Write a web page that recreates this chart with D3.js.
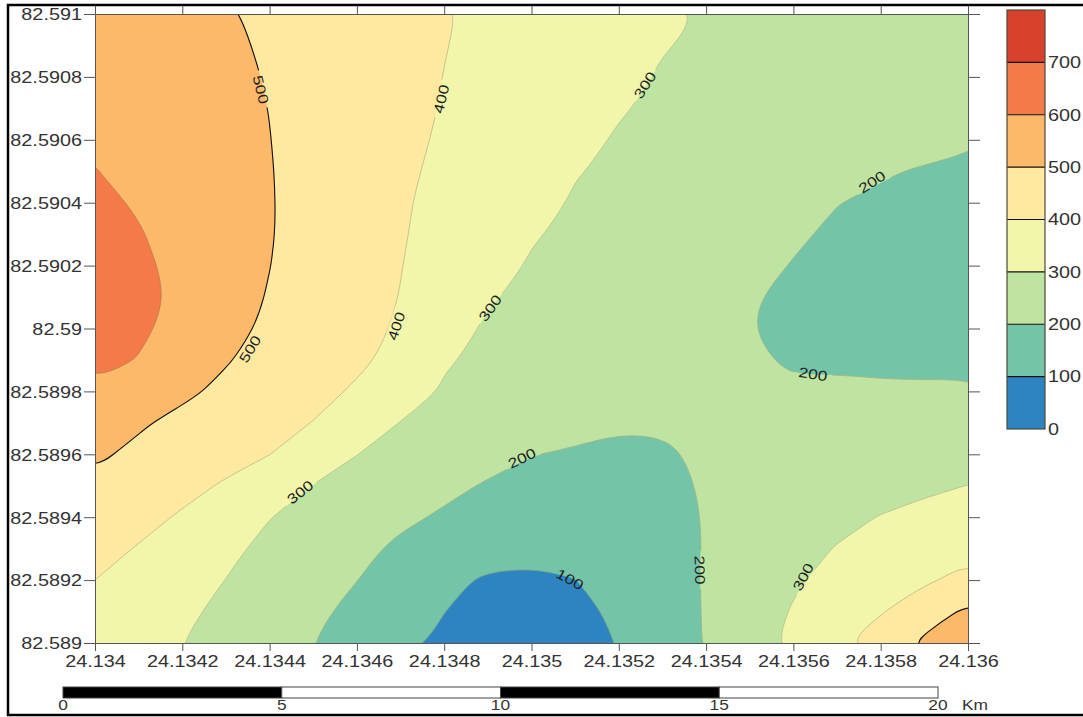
<!DOCTYPE html>
<html>
<head>
<meta charset="utf-8">
<script src="https://cdn.jsdelivr.net/npm/d3@7"></script>
<style>
  body { margin: 0; background: #fff; }
  svg { display: block; }
</style>
</head>
<body>
<svg id="chart" width="1083" height="717"></svg>
<script>
// ---------------- DATA ----------------
const lonTicks = [24.134, 24.1342, 24.1344, 24.1346, 24.1348, 24.135, 24.1352, 24.1354, 24.1356, 24.1358, 24.136];
const lonTickLabels = ["24.134", "24.1342", "24.1344", "24.1346", "24.1348", "24.135", "24.1352", "24.1354", "24.1356", "24.1358", "24.136"];
const latTicks = [82.589, 82.5892, 82.5894, 82.5896, 82.5898, 82.59, 82.5902, 82.5904, 82.5906, 82.5908, 82.591];
const latTickLabels = ["82.589", "82.5892", "82.5894", "82.5896", "82.5898", "82.59", "82.5902", "82.5904", "82.5906", "82.5908", "82.591"];

const levels = [0, 100, 200, 300, 400, 500, 600, 700, 800];
const levelLabels = ["0", "100", "200", "300", "400", "500", "600", "700"];
const bandColors = ["#2e84c0", "#74c4a8", "#bfe4a1", "#f1f6ab", "#fee9a0", "#fdb96a", "#f47b48", "#d8412c"];

const scaleBarKm = [0, 5, 10, 15, 20];
const scaleBarUnit = "Km";

// estimated values on a 21 x 21 grid, rows from north (82.591) to south (82.589), columns west to east
const gridRows = [
  [555,539,522,506,487,467,446,426,405,386,368,350,332,314,296,288,279,270,260,251,242],
  [565,547,529,511,492,469,447,425,402,383,363,344,324,303,291,283,273,263,254,244,234],
  [575,555,536,516,496,472,448,423,399,378,357,336,315,295,287,277,266,256,246,235,225],
  [584,563,542,520,499,473,447,421,396,373,351,328,305,288,281,270,259,249,238,227,216],
  [592,569,547,524,501,474,446,418,391,367,343,318,294,286,274,263,251,240,228,217,205],
  [602,578,553,528,503,473,443,413,385,359,333,303,290,276,262,249,235,221,204,196,193],
  [620,592,562,533,504,473,441,408,379,351,322,294,281,265,250,234,219,201,193,188,182],
  [638,605,572,538,504,471,439,406,373,341,306,285,272,255,239,223,206,193,188,180,173],
  [653,616,578,539,501,467,435,402,365,329,293,280,263,246,230,213,198,191,183,176,168],
  [662,626,581,537,495,463,431,398,354,306,285,271,255,239,222,203,192,188,181,174,167],
  [660,616,571,525,486,456,425,391,333,290,280,265,249,234,218,201,190,189,183,177,171],
  [635,596,551,505,474,443,414,378,305,289,276,262,248,235,221,208,193,195,191,188,184],
  [580,548,515,484,454,424,390,336,294,277,260,243,226,218,213,209,207,206,206,207,210],
  [545,509,480,453,426,398,347,298,280,262,243,224,206,205,209,213,217,222,228,234,240],
  [512,484,456,428,401,350,301,276,251,227,202,192,189,194,207,215,225,236,248,259,270],
  [484,454,424,391,344,298,271,245,218,193,172,168,172,186,205,221,238,254,270,287,301],
  [456,425,391,346,302,273,244,215,190,166,143,140,150,168,205,229,254,279,303,320,338],
  [428,395,356,316,282,251,220,185,160,133,112,115,132,160,205,238,272,304,328,353,378],
  [400,366,332,299,266,233,201,160,117,90,92,99,133,169,205,247,290,324,355,387,426],
  [372,343,314,283,250,216,179,140,101,75,68,75,116,160,205,257,306,350,394,462,515],
  [345,323,301,268,234,201,161,122,84,62,52,66,104,155,205,264,321,390,438,515,590]
];

// contour labels (value, lon, lat, angle along the line)
const contourLabelValues = [500, 500, 400, 400, 300, 300, 300, 200, 200, 200, 100, 200, 300];
const contourLabelLon = [24.13438, 24.134355, 24.134793, 24.13469, 24.13526, 24.134905, 24.13447, 24.134978, 24.13578, 24.135645, 24.135088, 24.135386, 24.135622];
const contourLabelLat = [82.59076, 82.589935, 82.59073, 82.590008, 82.590774, 82.590065, 82.58948, 82.589588, 82.590466, 82.589855, 82.589203, 82.589232, 82.58921];
const contourLabelAngle = [76, -59, -77, -72, -57, -55, -38, -26, -33, 9, 28, 88, -62];

// ---------------- LAYOUT ----------------
const W = 1083, H = 717;
const plot = { left: 95, right: 968, top: 14, bottom: 643 };
const fontFam = "'Liberation Sans', Arial, Helvetica, sans-serif";
const stretch = 1.24;
const textColor = "#333";

const svg = d3.select("#chart");
const defs = svg.append("defs");

const x = d3.scaleLinear().domain([lonTicks[0], lonTicks[lonTicks.length - 1]]).range([plot.left, plot.right]);
const y = d3.scaleLinear().domain([latTicks[0], latTicks[latTicks.length - 1]]).range([plot.bottom, plot.top]);

// outer frame
svg.append("rect").attr("x", 8).attr("y", 5).attr("width", W + 20).attr("height", 710)
  .attr("fill", "#fff").attr("stroke", "#000").attr("stroke-width", 2.5);

// clip to plot area
defs.append("clipPath").attr("id", "plotClip").append("rect")
  .attr("x", plot.left).attr("y", plot.top)
  .attr("width", plot.right - plot.left).attr("height", plot.bottom - plot.top);

// ---------------- CONTOURS ----------------
const nCols = gridRows[0].length, nRows = gridRows.length;
const values = gridRows.flat();
const lon0 = lonTicks[0], lon1 = lonTicks[lonTicks.length - 1];
const lat0 = latTicks[0], lat1 = latTicks[latTicks.length - 1];
const uToLon = u => lon0 + (u - 0.5) * (lon1 - lon0) / (nCols - 1);
const vToLat = v => lat1 - (v - 0.5) * (lat1 - lat0) / (nRows - 1);

const bands = d3.contours().size([nCols, nRows]).thresholds(levels.slice(0, -1))(values);

const ringLine = d3.line()
  .x(p => x(uToLon(p[0])))
  .y(p => y(vToLat(p[1])))
  .curve(d3.curveBasisClosed);
const pathOf = c => c.coordinates.map(poly => poly.map(r => ringLine(r.slice(0, -1))).join("")).join("");

const gBands = svg.append("g").attr("clip-path", "url(#plotClip)");
gBands.append("rect").attr("x", plot.left).attr("y", plot.top)
  .attr("width", plot.right - plot.left).attr("height", plot.bottom - plot.top)
  .attr("fill", bandColors[0]);
gBands.selectAll("path.band").data(bands.filter(b => b.coordinates.length)).join("path")
  .attr("class", "band")
  .attr("d", pathOf)
  .attr("fill", d => bandColors[levels.indexOf(d.value)])
  .attr("fill-rule", "evenodd")
  .attr("stroke", d => bandColors[levels.indexOf(d.value)])
  .attr("stroke-width", 0.6);

// mask to open gaps in lines under labels
const mask = defs.append("mask").attr("id", "lblMask").attr("maskUnits", "userSpaceOnUse")
  .attr("x", 0).attr("y", 0).attr("width", W).attr("height", H);
mask.append("rect").attr("x", 0).attr("y", 0).attr("width", W).attr("height", H).attr("fill", "#fff");
contourLabelValues.forEach((v, i) => {
  const px = x(contourLabelLon[i]), py = y(contourLabelLat[i]);
  mask.append("rect").attr("x", -19).attr("y", -7).attr("width", 38).attr("height", 14)
    .attr("fill", "#000")
    .attr("transform", `translate(${px},${py}) rotate(${contourLabelAngle[i]})`);
});

const gLines = svg.append("g").attr("clip-path", "url(#plotClip)").append("g").attr("mask", "url(#lblMask)");
gLines.selectAll("path.iso").data(bands.filter(b => b.value > 0 && b.coordinates.length)).join("path")
  .attr("class", "iso")
  .attr("d", pathOf)
  .attr("fill", "none")
  .attr("stroke", d => d.value === 500 ? "#111" : "rgba(120,120,105,0.45)")
  .attr("stroke-width", d => d.value === 500 ? 1.1 : 0.8);

// contour labels
const gLbl = svg.append("g").attr("font-family", fontFam).attr("font-size", 14).attr("fill", "#1e1e1e");
contourLabelValues.forEach((v, i) => {
  const px = x(contourLabelLon[i]), py = y(contourLabelLat[i]);
  gLbl.append("text")
    .attr("transform", `translate(${px},${py}) rotate(${contourLabelAngle[i]}) scale(${stretch},1)`)
    .attr("text-anchor", "middle").attr("dy", "0.36em")
    .text(String(v));
});

// ---------------- AXES ----------------
function styleAxis(g) {
  g.attr("font-family", fontFam).attr("font-size", 16);
  g.select(".domain").attr("stroke", "#555").attr("stroke-width", 1);
  g.selectAll(".tick line").attr("stroke", "#555");
}

const gB = svg.append("g").attr("transform", `translate(0,${plot.bottom})`)
  .call(d3.axisBottom(x).tickValues(lonTicks).tickFormat((d, i) => lonTickLabels[i]).tickSize(8).tickSizeOuter(0));
styleAxis(gB);
gB.selectAll(".tick text").attr("y", 0).attr("dy", 0).attr("fill", textColor)
  .attr("transform", `translate(0,24) scale(${stretch},1)`);

const gL = svg.append("g").attr("transform", `translate(${plot.left},0)`)
  .call(d3.axisLeft(y).tickValues(latTicks).tickFormat((d, i) => latTickLabels[i]).tickSize(11).tickSizeOuter(0));
styleAxis(gL);
gL.selectAll(".tick text").attr("x", 0).attr("dy", 0).attr("fill", textColor).attr("text-anchor", "end")
  .attr("transform", `translate(-13,5.8) scale(${stretch},1)`);

const gT = svg.append("g").attr("transform", `translate(0,${plot.top})`)
  .call(d3.axisTop(x).tickValues(lonTicks).tickFormat("").tickSize(8).tickSizeOuter(0));
styleAxis(gT);

const gR = svg.append("g").attr("transform", `translate(${plot.right},0)`)
  .call(d3.axisRight(y).tickValues(latTicks).tickFormat("").tickSize(12).tickSizeOuter(0));
styleAxis(gR);

// ---------------- COLOR BAR ----------------
const cb = { x: 1007, w: 38 };
const cy = d3.scaleLinear().domain([levels[0], levels[levels.length - 1]]).range([429, 10]);
const gCB = svg.append("g");
gCB.selectAll("rect.cb").data(bandColors).join("rect")
  .attr("class", "cb")
  .attr("x", cb.x).attr("width", cb.w)
  .attr("y", (d, i) => cy(levels[i + 1]))
  .attr("height", (d, i) => cy(levels[i]) - cy(levels[i + 1]))
  .attr("fill", d => d);
gCB.selectAll("line.sep").data(levels.slice(1, -1)).join("line")
  .attr("class", "sep")
  .attr("x1", cb.x).attr("x2", cb.x + cb.w)
  .attr("y1", d => cy(d)).attr("y2", d => cy(d))
  .attr("stroke", "#111").attr("stroke-width", 1.2);
gCB.append("rect").attr("x", cb.x).attr("y", cy(levels[levels.length - 1]))
  .attr("width", cb.w).attr("height", cy(levels[0]) - cy(levels[levels.length - 1]))
  .attr("fill", "none").attr("stroke", "#4a4a3a").attr("stroke-width", 1.2);
gCB.selectAll("text").data(levelLabels).join("text")
  .attr("transform", (d, i) => `translate(${cb.x + cb.w + 3},${cy(levels[i]) + 5.8}) scale(${stretch},1)`)
  .attr("font-family", fontFam).attr("font-size", 16).attr("fill", textColor)
  .text(d => d);

// ---------------- SCALE BAR ----------------
const sb = d3.scaleLinear().domain([scaleBarKm[0], scaleBarKm[scaleBarKm.length - 1]]).range([63, 938]);
const gSB = svg.append("g");
gSB.selectAll("rect").data(scaleBarKm.slice(0, -1)).join("rect")
  .attr("x", (d, i) => sb(d)).attr("y", 687)
  .attr("width", (d, i) => sb(scaleBarKm[i + 1]) - sb(d)).attr("height", 11)
  .attr("fill", (d, i) => i % 2 === 0 ? "#000" : "#fff")
  .attr("stroke", "#444").attr("stroke-width", 1);
gSB.selectAll("text.km").data(scaleBarKm).join("text")
  .attr("class", "km")
  .attr("transform", d => `translate(${sb(d)},710) scale(${stretch},1)`)
  .attr("text-anchor", "middle")
  .attr("font-family", fontFam).attr("font-size", 14).attr("fill", textColor)
  .text(d => String(d));
gSB.append("text")
  .attr("transform", `translate(${sb(scaleBarKm[scaleBarKm.length - 1]) + 24},710) scale(${stretch},1)`)
  .attr("font-family", fontFam).attr("font-size", 14).attr("fill", textColor)
  .text(scaleBarUnit);
</script>
</body>
</html>
